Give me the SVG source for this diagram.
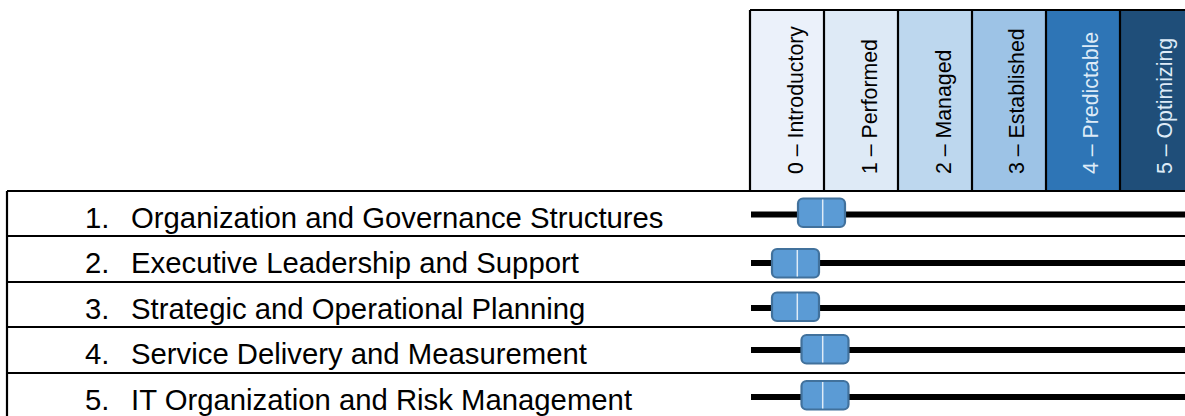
<svg xmlns="http://www.w3.org/2000/svg" width="1185" height="416" viewBox="0 0 1185 416">
  <style>
    .hdr { font-family: "Liberation Sans", Arial, sans-serif; font-size: 21.3px; }
    .lbl { font-family: "Liberation Sans", Arial, sans-serif; font-size: 29.3px; fill: #000; }
    .grid { stroke: #000; stroke-width: 2.2; fill: none; }
    .bar { stroke: #000; stroke-width: 6; }
    .knob { fill: #5B9BD5; stroke: #41719C; stroke-width: 2.2; }
    .tick { stroke: #DEEBF7; stroke-width: 1.5; }
  </style>
  <rect width="1185" height="416" fill="#fff"/>
  <g id="header">
    <g id="col0"><rect x="750" y="10" width="74" height="181" fill="#EBF1FA"/><text class="hdr" transform="translate(803,174) rotate(-90)" fill="#000">0 – Introductory</text></g>
    <g id="col1"><rect x="824" y="10" width="74" height="181" fill="#DEEAF6"/><text class="hdr" transform="translate(877,174) rotate(-90)" fill="#000">1 – Performed</text></g>
    <g id="col2"><rect x="898" y="10" width="74" height="181" fill="#BDD7EE"/><text class="hdr" transform="translate(951,174) rotate(-90)" fill="#000">2 – Managed</text></g>
    <g id="col3"><rect x="972" y="10" width="74" height="181" fill="#9DC3E6"/><text class="hdr" transform="translate(1024,174) rotate(-90)" fill="#000">3 – Established</text></g>
    <g id="col4"><rect x="1046" y="10" width="74" height="181" fill="#2E75B6"/><text class="hdr" transform="translate(1098,174) rotate(-90)" fill="#DEEBF7">4 – Predictable</text></g>
    <g id="col5"><rect x="1120" y="10" width="74" height="181" fill="#1F4E79"/><text class="hdr" transform="translate(1172,174) rotate(-90)" fill="#DEEBF7">5 – Optimizing</text></g>
  </g>
  <g id="grid" class="grid">
    <path d="M750 10H1185M750 10V191M824 10V191M898 10V191M972 10V191M1046 10V191M1120 10V191"/>
    <path d="M7 191H1185M7 236H1185M7 282H1185M7 327H1185M7 373H1185M7 191V416"/>
  </g>
  <g id="connectors">
    <line class="bar" x1="751" y1="214.5" x2="1185" y2="214.5"/>
    <line class="bar" x1="751" y1="263" x2="1185" y2="263"/>
    <line class="bar" x1="751" y1="308" x2="1185" y2="308"/>
    <line class="bar" x1="751" y1="350" x2="1185" y2="350"/>
    <line class="bar" x1="751" y1="397" x2="1185" y2="397"/>
  </g>
  <g id="row1">
    <text class="lbl" x="85" y="228">1.</text><text class="lbl" x="131" y="228">Organization and Governance Structures</text>
    <rect class="knob" x="798" y="198.5" width="47" height="28.5" rx="5"/><line class="tick" x1="822.7" y1="199.5" x2="822.7" y2="226"/>
  </g>
  <g id="row2">
    <text class="lbl" x="85" y="273">2.</text><text class="lbl" x="131" y="273">Executive Leadership and Support</text>
    <rect class="knob" x="772" y="249" width="47" height="28.5" rx="5"/><line class="tick" x1="797.3" y1="250" x2="797.3" y2="276.5"/>
  </g>
  <g id="row3">
    <text class="lbl" x="85" y="319">3.</text><text class="lbl" x="131" y="319">Strategic and Operational Planning</text>
    <rect class="knob" x="772" y="292.5" width="47" height="28.5" rx="5"/><line class="tick" x1="797.3" y1="293.5" x2="797.3" y2="320"/>
  </g>
  <g id="row4">
    <text class="lbl" x="85" y="364">4.</text><text class="lbl" x="131" y="364">Service Delivery and Measurement</text>
    <rect class="knob" x="801.5" y="335" width="47" height="28.5" rx="5"/><line class="tick" x1="822.7" y1="336" x2="822.7" y2="362.5"/>
  </g>
  <g id="row5">
    <text class="lbl" x="85" y="410">5.</text><text class="lbl" x="131" y="410">IT Organization and Risk Management</text>
    <rect class="knob" x="801.5" y="381" width="47" height="28.5" rx="5"/><line class="tick" x1="822.7" y1="382" x2="822.7" y2="408.5"/>
  </g>
</svg>
